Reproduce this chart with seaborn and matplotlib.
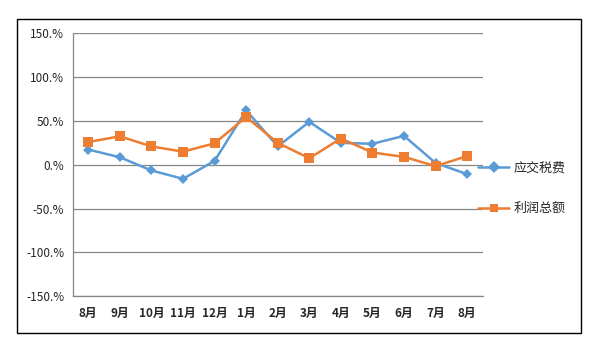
import numpy as np
import pandas as pd
import matplotlib
matplotlib.use("Agg")
import matplotlib.pyplot as plt
from matplotlib.patches import Rectangle
from matplotlib.ticker import FuncFormatter
import seaborn as sns

# ---- data ----
months = ["8月", "9月", "10月", "11月", "12月", "1月", "2月", "3月",
          "4月", "5月", "6月", "7月", "8月"]
tax = [17.4, 8.6, -6.5, -16.0, 4.5, 62.0, 21.0, 49.0, 25.0, 24.0, 33.0, 2.0, -10.7]
profit = [26.0, 32.5, 21.0, 15.0, 24.5, 54.5, 25.0, 7.5, 30.0, 14.0, 9.0, -1.5, 10.0]
series_names = ["应交税费", "利润总额"]

BLUE = "#5B9BD5"
ORANGE = "#ED7D31"
GRID = "#868686"

sns.set_style("white")
plt.rcParams["font.family"] = ["Noto Sans CJK SC", "DejaVu Sans"]

pos = np.arange(len(months))
df = pd.DataFrame({"pos": np.concatenate([pos, pos]),
                   "value": tax + profit,
                   "series": [series_names[0]] * len(months) + [series_names[1]] * len(months)})

fig = plt.figure(figsize=(6.05, 3.52), dpi=100)
ax = fig.add_axes([72.5 / 605, 1 - 296.3 / 352, (483 - 72.5) / 605, (296.3 - 33.3) / 352])

sns.lineplot(data=df, x="pos", y="value", hue="series", style="series",
             palette=[BLUE, ORANGE], markers=["D", "s"], dashes=False,
             markersize=6, linewidth=1.8, markeredgewidth=0, sort=False, ax=ax)
for ln, ms in zip(ax.lines, [5.2, 6.5]):
    ln.set_markersize(ms)

ax.set_xlim(-0.5, len(months) - 0.5)
ax.set_ylim(-150, 150)
ax.set_yticks(np.arange(-150, 151, 50))
ax.yaxis.set_major_formatter(FuncFormatter(lambda v, p: f"{v:.0f}.%"))
ax.set_xticks(pos)
ax.set_xticklabels(months, fontweight="bold", fontsize=8.5)
ax.tick_params(axis="y", labelsize=8.5, length=4, color=GRID, width=0.8, pad=2)
ax.tick_params(axis="x", length=0, pad=8)
ax.set_xlabel("")
ax.set_ylabel("")

ax.yaxis.grid(True, color=GRID, linewidth=0.9)
ax.set_axisbelow(True)
for s in ["top", "right"]:
    ax.spines[s].set_visible(False)
ax.spines["left"].set_color(GRID)
ax.spines["left"].set_linewidth(0.9)
ax.spines["bottom"].set_color(GRID)
ax.spines["bottom"].set_linewidth(0.9)

handles, labels = ax.get_legend_handles_labels()
ax.legend(handles, labels, loc="center left", bbox_to_anchor=(478 / 605, 1 - 188.5 / 352),
          bbox_transform=fig.transFigure, frameon=False, fontsize=9.4,
          labelspacing=2.1, handlelength=2.4, handletextpad=0.3,
          borderpad=0, borderaxespad=0)

fig.patches.append(Rectangle((17 / 605, 1 - 333 / 352), (580.5 - 17) / 605, (333 - 18.5) / 352,
                             transform=fig.transFigure, fill=False, edgecolor="black",
                             linewidth=1.0))

fig.savefig("out.png", dpi=100, facecolor="white")
